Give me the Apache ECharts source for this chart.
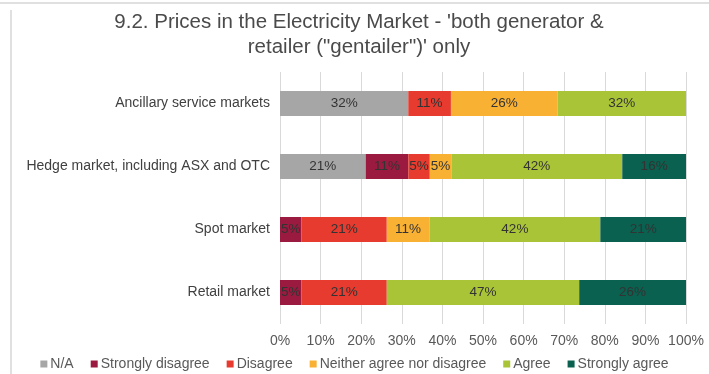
<!DOCTYPE html>
<html><head><meta charset="utf-8">
<script src="https://cdn.jsdelivr.net/npm/echarts@6/dist/echarts.min.js"></script>
<style>html,body{margin:0;padding:0;background:#fff}#c{width:709px;height:374px}</style>
</head><body><div id="c"></div>
<script>
var categories = ['Retail market', 'Spot market', 'Hedge market, including ASX and OTC', 'Ancillary service markets'];
var seriesNames = ['N/A', 'Strongly disagree', 'Disagree', 'Neither agree nor disagree', 'Agree', 'Strongly agree'];
var naVals       = [0, 0, 21.1, 31.6];
var sdVals       = [5.3, 5.3, 10.5, 0];
var dVals        = [21.0, 21.0, 5.3, 10.5];
var nVals        = [0, 10.5, 5.3, 26.3];
var aVals        = [47.4, 42.1, 42.1, 31.6];
var saVals       = [26.3, 21.1, 15.8, 0];
var tickLabels   = ['0%','10%','20%','30%','40%','50%','60%','70%','80%','90%','100%'];
var colors = ['#a6a6a6', '#9b1b40', '#e63b2e', '#f8b133', '#a9c437', '#0a6150'];
var allVals = [naVals, sdVals, dVals, nVals, aVals, saVals];
var FF = 'Arial, Liberation Sans';

var chart = echarts.init(document.getElementById('c'));
var series = seriesNames.map(function(n, i){
  return {
    name: n, type: 'bar', stack: 'all', barWidth: 25,
    itemStyle: {color: colors[i]},
    label: {show: true, position: 'inside', color: '#333', fontSize: 13.5, fontFamily: FF,
      formatter: function(p){ return p.value > 0 ? Math.round(p.value) + '%' : ''; }},
    data: allVals[i]
  };
});
chart.setOption({
  animation: false,
  title: {text: "9.2. Prices in the Electricity Market - 'both generator &\nretailer (\"gentailer\")' only",
    left: 354, top: 5, textAlign: 'center',
    textStyle: {color: '#4a4a4a', fontSize: 20.5, fontWeight: 'normal', fontFamily: FF, lineHeight: 25}},
  grid: {left: 280, right: 23, top: 72, bottom: 50},
  xAxis: {type: 'value', min: 0, max: 100, interval: 10,
    axisLine: {show: false}, axisTick: {show: false},
    splitLine: {lineStyle: {color: '#d9d9d9'}},
    axisLabel: {formatter: function(v){ return tickLabels[Math.round(v/10)]; }, color: '#595959', fontSize: 14, margin: 10, fontFamily: FF}},
  yAxis: {type: 'category', data: categories,
    axisLine: {show: false}, axisTick: {show: false},
    axisLabel: {color: '#404040', fontSize: 14, margin: 10, fontFamily: FF}},
  legend: {top: 352, left: 'center', itemWidth: 7, itemHeight: 7, itemGap: 17, icon: 'rect',
    textStyle: {color: '#595959', fontSize: 14, fontFamily: FF, padding: [0,0,0,-2]}},
  graphic: [
    {type: 'line', shape: {x1: 0, y1: 3, x2: 709, y2: 3}, style: {stroke: '#e0e0e0', lineWidth: 2}},
    {type: 'line', shape: {x1: 11, y1: 10, x2: 11, y2: 374}, style: {stroke: '#e0e0e0', lineWidth: 2}}
  ],
  series: series
});
</script></body></html>
